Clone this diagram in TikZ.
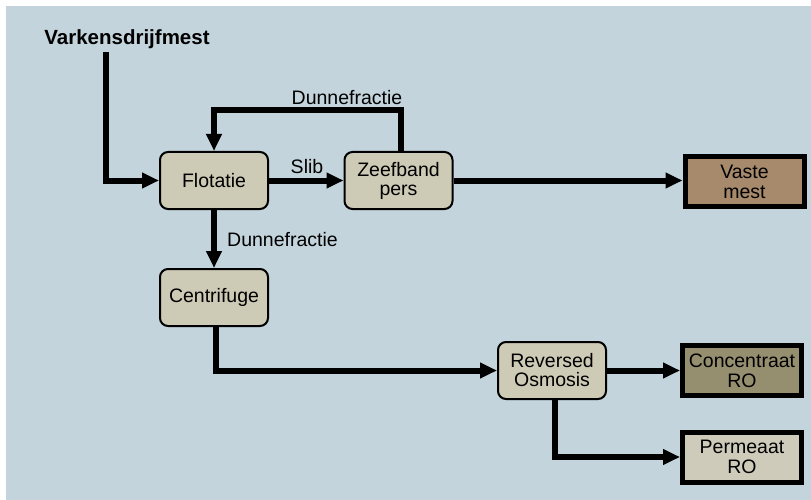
\documentclass[tikz,border=0pt]{standalone}
\usepackage{fontspec}
\setmainfont{Liberation Sans}
\usetikzlibrary{arrows.meta}

\definecolor{bgblue}{HTML}{C3D4DC}
\definecolor{procfill}{HTML}{CDCAB6}
\definecolor{vastefill}{HTML}{A68A6B}
\definecolor{concfill}{HTML}{968F6F}
\definecolor{permfill}{HTML}{CECBBA}

\tikzset{
  procbox/.style={draw=black, line width=2pt, rounded corners=8pt, fill=procfill,
    minimum width=108pt, minimum height=57pt, align=center, inner sep=0pt,
    font=\fontsize{19.5}{19}\selectfont},
  prodbox/.style={draw=black, line width=5pt, fill=#1,
    minimum width=119pt, minimum height=50pt, align=center, inner sep=0pt,
    font=\fontsize{19.5}{20}\selectfont},
  flow/.style={line width=6pt, -{Triangle[length=17pt,width=15pt]}},
  lbl/.style={font=\fontsize{19.5}{20}\selectfont, inner sep=0pt},
}

\begin{document}
\begin{tikzpicture}[x=1pt, y=-1pt]
  \useasboundingbox (0,0) rectangle (811,500);
  \fill[bgblue] (6,6) rectangle (811,500);

  % feed label
  \node[lbl, font=\bfseries\fontsize{20.5}{20}\selectfont] (feed) at (127,39) {Varkensdrijfmest};
  \coordinate (feedstart) at (105.5,52);
  \coordinate (fbtop) at (0,110);

  % process units
  \node[procbox] (flot)  at (214,180.5) {Flotatie};
  \node[procbox] (zeef)  at (398.5,180.5) {Zeefband\\pers};
  \node[procbox] (centr) at (214,297.5) {Centrifuge};
  \node[procbox] (ro)    at (552,370.5) {Reversed\\Osmosis};

  % products
  \node[prodbox=vastefill] (vaste) at (744.5,181.5) {Vaste\\mest};
  \node[prodbox=concfill]  (conc)  at (742,370.5) {Concentraat\\RO};
  \node[prodbox=permfill]  (perm)  at (742,457) {Permeaat\\RO};

  % flows
  \draw[flow] (feedstart) |- (flot.west);
  \draw[flow] (flot.east) -- (zeef.west);
  \draw[flow] ([xshift=2.5pt]zeef.north) -- ([xshift=2.5pt]zeef.north |- fbtop) -| (flot.north);
  \draw[flow] (zeef.east) -- (zeef.east -| vaste.west);
  \draw[flow] (flot.south) -- (centr.north);
  \draw[flow] ([xshift=2pt]centr.south) |- (ro.west);
  \draw[flow] (ro.east) -- (conc.west);
  \draw[flow] ([xshift=3pt]ro.south) |- (perm.west);

  % stream labels
  \node[lbl] (lslib) at (307,167) {Slib};
  \node[lbl] (ldun1) at (347,98) {Dunnefractie};
  \node[lbl, anchor=west] (ldun2) at (227,240) {Dunnefractie};
\end{tikzpicture}
\end{document}
